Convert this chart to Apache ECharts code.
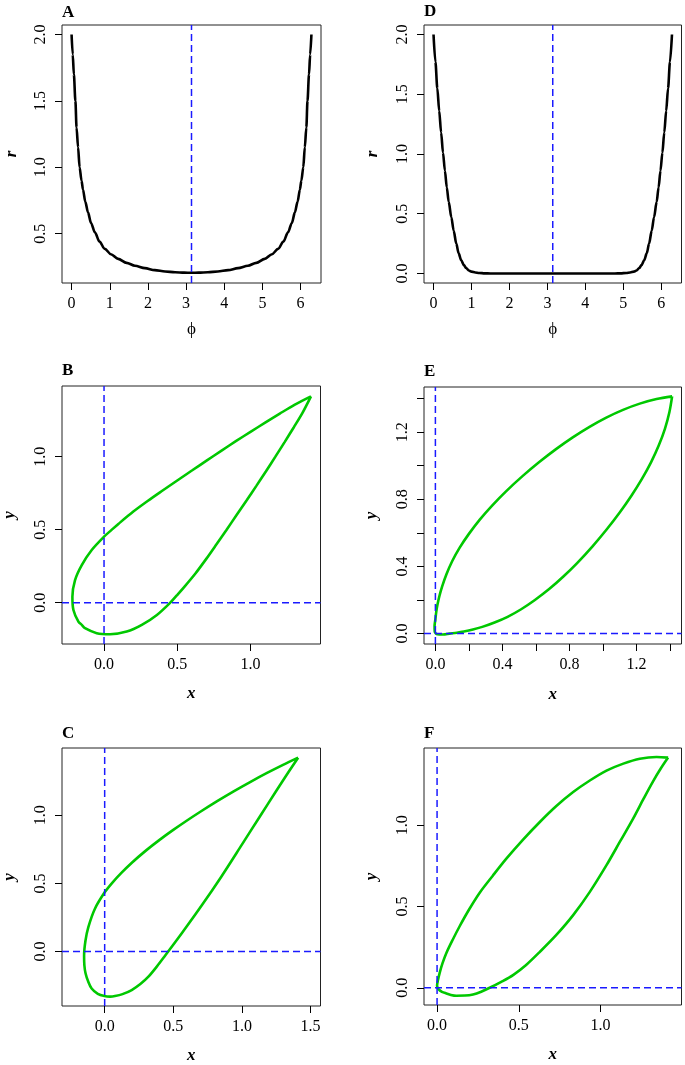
<!DOCTYPE html>
<html><head><meta charset="utf-8">
<script src="https://cdn.jsdelivr.net/npm/echarts@6/dist/echarts.min.js"></script>
<style>html,body{margin:0;padding:0;background:#fff}#c{width:685px;height:1065px}</style>
</head><body><div id="c"></div>
<script>
// ---------- data ----------
// Panel A : r vs phi
const phiA = [0, 0.03, 0.06, 0.1, 0.13, 0.17, 0.21, 0.26, 0.30, 0.36, 0.43, 0.51, 0.61, 0.73, 0.87, 1.03, 1.22, 1.44, 1.66, 1.92, 2.18, 2.45, 2.71, 2.95, 3.14,
              3.33, 3.57, 3.83, 4.10, 4.36, 4.62, 4.84, 5.06, 5.25, 5.41, 5.55, 5.67, 5.77, 5.85, 5.92, 5.98, 6.02, 6.07, 6.11, 6.15, 6.18, 6.22, 6.25, 6.283];
const rA   = [2.0, 1.85, 1.70, 1.5, 1.3, 1.15, 1.0, 0.9, 0.83, 0.74, 0.66, 0.58, 0.51, 0.44, 0.385, 0.345, 0.31, 0.28, 0.258, 0.24, 0.225, 0.215, 0.209, 0.206, 0.205,
              0.206, 0.209, 0.215, 0.225, 0.24, 0.258, 0.28, 0.31, 0.345, 0.385, 0.44, 0.51, 0.58, 0.66, 0.74, 0.83, 0.9, 1.0, 1.15, 1.3, 1.5, 1.70, 1.85, 2.0];
// Panel D : r vs phi
const phiD = [0, 0.05, 0.1, 0.15, 0.2, 0.25, 0.3, 0.35, 0.4, 0.47, 0.53, 0.6, 0.66, 0.73, 0.8, 0.86, 0.93, 1.0, 1.1, 1.2, 1.35, 1.5, 2.0, 2.5, 3.14,
              3.78, 4.28, 4.78, 4.93, 5.08, 5.18, 5.28, 5.35, 5.42, 5.48, 5.55, 5.62, 5.68, 5.75, 5.81, 5.88, 5.93, 5.98, 6.03, 6.08, 6.13, 6.18, 6.23, 6.283];
const rD   = [2.0, 1.77, 1.55, 1.36, 1.18, 1.01, 0.86, 0.72, 0.6, 0.47, 0.36, 0.25, 0.17, 0.11, 0.07, 0.045, 0.025, 0.015, 0.008, 0.004, 0.001, 0, 0, 0, 0,
              0, 0, 0, 0.001, 0.004, 0.008, 0.015, 0.025, 0.045, 0.07, 0.11, 0.17, 0.25, 0.36, 0.47, 0.6, 0.72, 0.86, 1.01, 1.18, 1.36, 1.55, 1.77, 2.0];
// Panel B : loop (tip -> upper side -> around -> lower side -> tip)
const xB = [1.413, 1.3, 1.2, 1.1, 1.0, 0.9, 0.8, 0.7, 0.6, 0.5, 0.4, 0.3, 0.2, 0.1, 0.05, 0, -0.084, -0.152, -0.198, -0.216, -0.209, -0.175, -0.152,
            -0.13, -0.05, 0.041, 0.155, 0.258, 0.361, 0.452, 0.497, 0.541, 0.624, 0.698, 0.768, 0.837, 0.905, 0.973, 1.04, 1.106, 1.17, 1.233, 1.295, 1.355, 1.413];
const yB = [1.413, 1.355, 1.295, 1.233, 1.17, 1.106, 1.04, 0.973, 0.905, 0.837, 0.768, 0.698, 0.624, 0.541, 0.497, 0.452, 0.361, 0.258, 0.155, 0.041, -0.05, -0.13, -0.152,
            -0.175, -0.209, -0.216, -0.198, -0.152, -0.084, 0, 0.05, 0.1, 0.2, 0.3, 0.4, 0.5, 0.6, 0.7, 0.8, 0.9, 1.0, 1.1, 1.2, 1.3, 1.413];
// Panel C : loop
const xC = [1.41, 1.30, 1.18, 1.06, 0.94, 0.82, 0.70, 0.60, 0.50, 0.40, 0.30, 0.20, 0.12, 0.055, 0, -0.071, -0.119, -0.14, -0.15, -0.148, -0.139, -0.12, -0.095, -0.05, -0.002,
            0.04, 0.075, 0.13, 0.197, 0.26, 0.319, 0.38, 0.44, 0.562, 0.708, 0.85, 1.0, 1.13, 1.25, 1.34, 1.41];
const yC = [1.423, 1.370, 1.309, 1.244, 1.176, 1.104, 1.028, 0.962, 0.893, 0.820, 0.741, 0.654, 0.576, 0.505, 0.435, 0.315, 0.18, 0.08, -0.03, -0.1, -0.161, -0.22, -0.271, -0.31, -0.326,
            -0.33, -0.326, -0.312, -0.282, -0.238, -0.184, -0.11, -0.03, 0.135, 0.34, 0.55, 0.785, 0.99, 1.178, 1.318, 1.423];
// Panel E : loop
const xE = [1.413, 1.32, 1.22, 1.12, 1.02, 0.92, 0.82, 0.72, 0.62, 0.52, 0.42, 0.34, 0.265, 0.2, 0.145, 0.1, 0.066, 0.04, 0.024, 0.012, 0.005, 0, -0.005, -0.004,
            0.012, 0.045, 0.085, 0.128, 0.17, 0.224, 0.28, 0.353, 0.431, 0.512, 0.594, 0.679, 0.764, 0.846, 0.938, 1.022, 1.099, 1.169, 1.232, 1.287, 1.333, 1.370, 1.397, 1.413];
const yE = [1.413, 1.397, 1.370, 1.333, 1.287, 1.232, 1.169, 1.099, 1.022, 0.938, 0.846, 0.764, 0.679, 0.594, 0.512, 0.431, 0.353, 0.28, 0.224, 0.17, 0.128, 0.085, 0.045, 0.012,
            -0.004, -0.005, 0, 0.005, 0.012, 0.024, 0.04, 0.066, 0.1, 0.145, 0.2, 0.265, 0.34, 0.42, 0.52, 0.62, 0.72, 0.82, 0.92, 1.02, 1.12, 1.22, 1.32, 1.413];
// Panel F : loop
const xF = [1.414, 1.343, 1.241, 1.14, 1.037, 0.935, 0.833, 0.73, 0.629, 0.525, 0.424, 0.34, 0.261, 0.195, 0.139, 0.095, 0.057, 0.033, 0.016, 0.005, 0, 0.01,
            0.03, 0.057, 0.085, 0.118, 0.17, 0.22, 0.27, 0.322, 0.39, 0.465, 0.545, 0.629, 0.73, 0.833, 0.935, 1.037, 1.12, 1.2, 1.265, 1.322, 1.37, 1.414];
const yF = [1.416, 1.42, 1.409, 1.379, 1.336, 1.275, 1.204, 1.118, 1.020, 0.910, 0.794, 0.688, 0.585, 0.48, 0.38, 0.294, 0.214, 0.15, 0.092, 0.045, 0.012, -0.01,
            -0.025, -0.035, -0.044, -0.049, -0.048, -0.041, -0.024, 0, 0.035, 0.078, 0.14, 0.221, 0.325, 0.447, 0.59, 0.754, 0.9, 1.041, 1.165, 1.27, 1.35, 1.416];

// reference (dashed) lines
const refPhi = [3.1416];
const refZero = [0];

// tick values / labels
const ticksPhi = [0, 1, 2, 3, 4, 5, 6];
const ticksRA = [0.5, 1.0, 1.5, 2.0];
const ticksRD = [0.0, 0.5, 1.0, 1.5, 2.0];
const ticksB = [0.0, 0.5, 1.0];
const ticksC_x = [0.0, 0.5, 1.0, 1.5];
const ticksC_y = [0.0, 0.5, 1.0];
const ticksE = [0.0, 0.2, 0.4, 0.6, 0.8, 1.0, 1.2, 1.4];
const labelsE = [0.0, 0.4, 0.8, 1.2];
const ticksF = [0.0, 0.5, 1.0];

// axis extents (plot limits)
const limA = {x: [-0.251, 6.534], y: [0.128, 2.072]};
const limD = {x: [-0.251, 6.534], y: [-0.08, 2.08]};
const limB = {x: [-0.287, 1.478], y: [-0.283, 1.484]};
const limE = {x: [-0.068, 1.469], y: [-0.062, 1.469]};
const limC = {x: [-0.311, 1.573], y: [-0.399, 1.494]};
const limF = {x: [-0.080, 1.496], y: [-0.106, 1.475]};

// ---------- layout ----------
const FONT = "'Liberation Serif','DejaVu Serif',serif";
const grids = [
  {left: 62, top: 25, width: 259, height: 258},    // A
  {left: 424, top: 25, width: 257.5, height: 258}, // D
  {left: 62, top: 386, width: 258.5, height: 258}, // B
  {left: 424, top: 387, width: 257.5, height: 257},// E
  {left: 62, top: 748, width: 258.5, height: 258}, // C
  {left: 424, top: 748, width: 257.5, height: 257} // F
].map(g => Object.assign({show: true, borderColor: '#222', borderWidth: 1, backgroundColor: 'transparent'}, g));

function fmt1(v) { return Number(v).toFixed(1); }
function fmt0(v) { return String(Math.round(v)); }

function mkX(gi, lim, ticks, labels, fmt, name, nameGap, nameStyle) {
  return {
    type: 'value', gridIndex: gi, min: lim[0], max: lim[1], position: 'bottom',
    splitLine: {show: false}, axisLine: {show: false, onZero: false},
    axisTick: {show: true, inside: false, length: 7, lineStyle: {color: '#000', width: 1}, customValues: ticks.slice()},
    axisLabel: {show: true, margin: 13, fontSize: 16, fontFamily: FONT, color: '#000', customValues: labels.slice(), formatter: fmt},
    name: name, nameLocation: 'middle', nameGap: nameGap,
    nameTextStyle: Object.assign({fontFamily: FONT, fontSize: 17, color: '#000'}, nameStyle)
  };
}
function mkY(gi, lim, ticks, labels, fmt, name, nameGap, nameStyle) {
  return {
    type: 'value', gridIndex: gi, min: lim[0], max: lim[1], position: 'left',
    splitLine: {show: false}, axisLine: {show: false, onZero: false},
    axisTick: {show: true, inside: false, length: 7, lineStyle: {color: '#000', width: 1}, customValues: ticks.slice()},
    axisLabel: {show: true, rotate: 90, margin: 13, fontSize: 16, fontFamily: FONT, color: '#000', customValues: labels.slice(), formatter: fmt},
    name: name, nameLocation: 'middle', nameGap: nameGap, nameRotate: 90,
    nameTextStyle: Object.assign({fontFamily: FONT, fontSize: 17, color: '#000'}, nameStyle)
  };
}
const bi = () => ({fontWeight: 'bold', fontStyle: 'italic'});
const plain = () => ({});

const xAxes = [
  mkX(0, limA.x, ticksPhi, ticksPhi, fmt0, 'ϕ', 38, plain()),
  mkX(1, limD.x, ticksPhi, ticksPhi, fmt0, 'ϕ', 38, plain()),
  mkX(2, limB.x, ticksB, ticksB, fmt1, 'x', 41, bi()),
  mkX(3, limE.x, ticksE, labelsE, fmt1, 'x', 42, bi()),
  mkX(4, limC.x, ticksC_x, ticksC_x, fmt1, 'x', 41, bi()),
  mkX(5, limF.x, ticksF, ticksF, fmt1, 'x', 41, bi())
];
const yAxes = [
  mkY(0, limA.y, ticksRA, ticksRA, fmt1, 'r', 42, bi()),
  mkY(1, limD.y, ticksRD, ticksRD, fmt1, 'r', 43, bi()),
  mkY(2, limB.y, ticksB, ticksB, fmt1, 'y', 44, bi()),
  mkY(3, limE.y, ticksE, labelsE, fmt1, 'y', 44, bi()),
  mkY(4, limC.y, ticksC_y, ticksC_y, fmt1, 'y', 44, bi()),
  mkY(5, limF.y, ticksF, ticksF, fmt1, 'y', 44, bi())
];

function zip(a, b) { return a.map((v, i) => [v, b[i]]); }
function curve(gi, data, color, mono) {
  const s = {
    type: 'line', xAxisIndex: gi, yAxisIndex: gi, data: data, showSymbol: false, symbol: 'none',
    smooth: 0.3, lineStyle: {color: color, width: 2.6}, itemStyle: {color: color},
    animation: false, silent: true, z: 3
  };
  if (mono) s.smoothMonotone = 'x';
  return s;
}
function refLine(gi, data) {
  return {
    type: 'line', xAxisIndex: gi, yAxisIndex: gi, data: data, showSymbol: false, symbol: 'none',
    lineStyle: {color: '#1a1aff', width: 1.5, type: [7, 4]}, itemStyle: {color: '#1a1aff'},
    animation: false, silent: true, z: 10
  };
}
function vLine(gi, xv, lim) { return refLine(gi, [[xv, lim.y[0]], [xv, lim.y[1]]]); }
function hLine(gi, yv, lim) { return refLine(gi, [[lim.x[0], yv], [lim.x[1], yv]]); }

const GREEN = '#00c800';
const series = [
  curve(0, zip(phiA, rA), '#000', true), vLine(0, refPhi[0], limA),
  curve(1, zip(phiD, rD), '#000', true), vLine(1, refPhi[0], limD),
  curve(2, zip(xB, yB), GREEN, false), vLine(2, refZero[0], limB), hLine(2, refZero[0], limB),
  curve(3, zip(xE, yE), GREEN, false), vLine(3, refZero[0], limE), hLine(3, refZero[0], limE),
  curve(4, zip(xC, yC), GREEN, false), vLine(4, refZero[0], limC), hLine(4, refZero[0], limC),
  curve(5, zip(xF, yF), GREEN, false), vLine(5, refZero[0], limF), hLine(5, refZero[0], limF)
];

const letters = [['A', 62, 4], ['D', 424, 3], ['B', 62, 362], ['E', 424, 363], ['C', 62, 725], ['F', 424, 725]];
const titles = letters.map(l => ({text: l[0], left: l[1], top: l[2], padding: 0,
  textStyle: {fontFamily: FONT, fontWeight: 'bold', fontSize: 17, color: '#000'}}));

const chart = echarts.init(document.getElementById('c'), null, {renderer: 'canvas'});
chart.setOption({
  animation: false,
  backgroundColor: '#fff',
  title: titles,
  grid: grids,
  xAxis: xAxes,
  yAxis: yAxes,
  series: series
});
</script></body></html>
